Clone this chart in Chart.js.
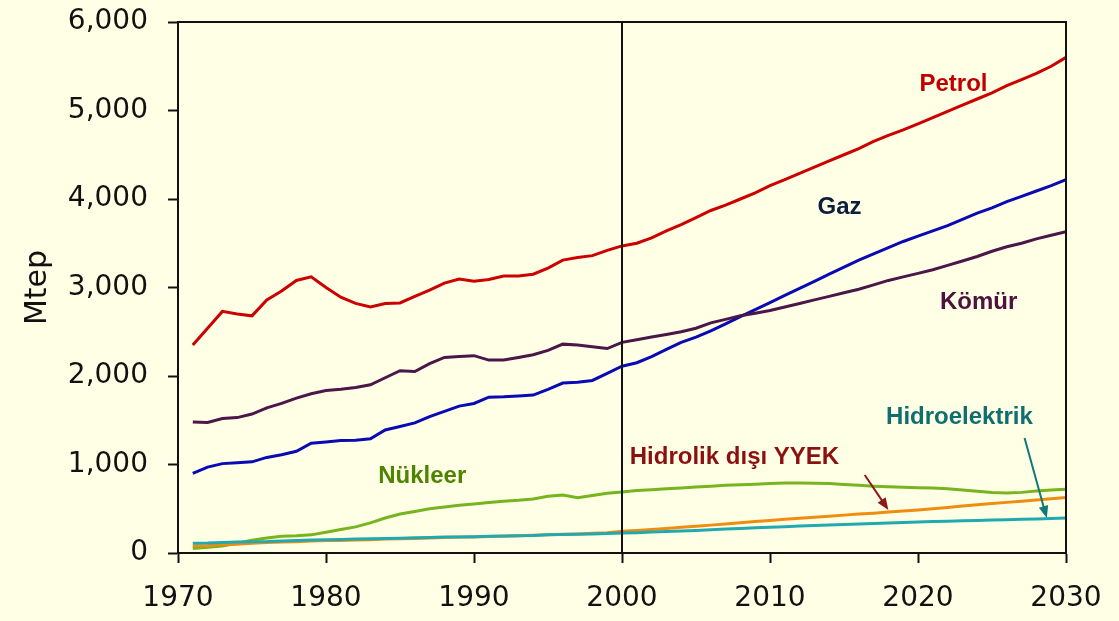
<!DOCTYPE html>
<html>
<head>
<meta charset="utf-8">
<script src="https://cdn.jsdelivr.net/npm/chart.js@4.4.1/dist/chart.umd.min.js"></script>
<style>
  html, body { margin: 0; padding: 0; background: #FFFFE6; }
  #chart { display: block; }
</style>
</head>
<body>
<canvas id="chart" width="1119" height="621"></canvas>
<script>
const years = [];
for (let y = 1971; y <= 2030; y++) years.push(y);

const petrol = [
  2350, 2540, 2730, 2700, 2680, 2860, 2960, 3080, 3120, 3000,
  2890, 2820, 2780, 2820, 2825, 2900, 2970, 3050, 3095, 3070,
  3090, 3130, 3130, 3150, 3220, 3310, 3340, 3360, 3420, 3470,
  3500, 3560, 3640, 3710, 3790, 3870, 3930, 4000, 4070, 4150,
  4220, 4290, 4360, 4430, 4500, 4570, 4650, 4720, 4780, 4850,
  4920, 4990, 5060, 5130, 5200, 5280, 5350, 5420, 5500, 5600
];
const gaz = [
  900, 970, 1010, 1020, 1030, 1080, 1110, 1150, 1240, 1255,
  1270, 1275, 1290, 1390, 1430, 1470, 1540, 1600, 1660, 1690,
  1760, 1765, 1775, 1785, 1850, 1920, 1930, 1950, 2030, 2110,
  2150, 2220, 2300, 2380, 2440, 2510, 2590, 2670, 2750, 2830,
  2910, 2990, 3070, 3150, 3230, 3310, 3380, 3450, 3520, 3580,
  3640, 3700, 3770, 3840, 3900, 3970, 4030, 4090, 4150, 4220
];
const komur = [
  1480, 1475, 1520, 1530, 1570, 1640, 1690, 1750, 1800, 1835,
  1850, 1870, 1900, 1980, 2060, 2050, 2140, 2210, 2220, 2230,
  2180, 2180, 2210, 2240, 2290, 2360, 2350, 2330, 2310, 2380,
  2410, 2440, 2470, 2500, 2540, 2600, 2640, 2680, 2710, 2740,
  2780, 2820, 2860, 2900, 2940, 2980, 3030, 3080, 3120, 3160,
  3200, 3250, 3300, 3350, 3410, 3460, 3500, 3550, 3590, 3630
];
const nukleer = [
  50, 65, 80, 110, 145, 170, 190, 195, 205, 235,
  265, 295, 340, 395, 440, 470, 500, 520, 540, 555,
  570, 585, 595, 610, 640, 655, 625, 650, 675, 690,
  705, 715, 725, 735, 745, 755, 765, 770, 778, 785,
  790, 790, 788, 785, 775, 765, 755, 748, 742, 738,
  734, 725, 712, 698, 685, 678, 685, 700, 712, 720
];
const yyek = [
  80, 85, 95, 100, 110, 118, 125, 128, 135, 140,
  142, 148, 150, 158, 162, 165, 170, 176, 180, 182,
  186, 190, 196, 200, 206, 212, 216, 222, 230, 245,
  255, 265, 278, 290, 302, 315, 328, 342, 355, 368,
  380, 392, 404, 416, 428, 440, 450, 462, 474, 486,
  500, 515, 530, 545, 560, 572, 585, 598, 612, 628
];
const hidro = [
  110, 112, 118, 125, 128, 130, 136, 142, 148, 150,
  153, 158, 160, 165, 168, 172, 175, 180, 182, 185,
  190, 193, 196, 198, 205, 208, 212, 215, 220, 225,
  230, 236, 242, 248, 255, 262, 270, 278, 285, 292,
  298, 304, 310, 316, 322, 328, 334, 340, 346, 350,
  355, 360, 364, 368, 372, 376, 380, 385, 390, 395
];

const seriesNames = ['Petrol', 'Gaz', 'Kömür', 'Nükleer', 'Hidrolik dışı YYEK', 'Hidroelektrik'];
const seriesColors = ['#CC0000', '#0A0AB4', '#4B1648', '#78B41E', '#F08C10', '#20AAB0'];
const seriesValues = [petrol, gaz, komur, nukleer, yyek, hidro];

const yTicks = [0, 1000, 2000, 3000, 4000, 5000, 6000];
const xTicks = [1970, 1980, 1990, 2000, 2010, 2020, 2030];
const splitYear = 2000;

// text labels placed in data units: [text, year, value, colour]
const labels = [
  ['Petrol', 2022.4, 5300, '#C00000'],
  ['Gaz', 2014.7, 3910, '#0B1E3C'],
  ['Kömür', 2024.1, 2836, '#4D1240'],
  ['Nükleer', 1986.5, 870, '#4F8400'],
  ['Hidrolik dışı YYEK', 2007.6, 1085, '#8C1010'],
  ['Hidroelektrik', 2022.8, 1537, '#0F6E70']
];
// arrows: [fromYear, fromValue, toYear, toValue, colour]
const arrows = [
  [2016.4, 881, 2018.0, 486, '#8B1A1A'],
  [2027.2, 1299, 2028.7, 395, '#107878']
];

const datasets = seriesNames.map((name, i) => ({
  label: name,
  data: years.map((yr, j) => ({ x: yr, y: seriesValues[i][j] })),
  borderColor: seriesColors[i],
  backgroundColor: seriesColors[i],
  borderWidth: 3,
  pointRadius: 0,
  tension: 0,
  fill: false
})).reverse();

const decorPlugin = {
  id: 'decor',
  beforeDraw(chart) {
    const ctx = chart.ctx;
    ctx.save();
    ctx.fillStyle = '#FFFFE6';
    ctx.fillRect(0, 0, chart.width, chart.height);
    ctx.restore();
  },
  afterDatasetsDraw(chart) {
    const { ctx, chartArea: a, scales } = chart;
    ctx.save();
    ctx.strokeStyle = '#111';
    ctx.lineWidth = 2;
    ctx.strokeRect(a.left, a.top, a.right - a.left, a.bottom - a.top);
    const sx = Math.round(scales.x.getPixelForValue(splitYear));
    ctx.beginPath();
    ctx.moveTo(sx, a.top);
    ctx.lineTo(sx, a.bottom);
    ctx.stroke();

    ctx.font = 'bold 24px "Liberation Sans", Arial, sans-serif';
    ctx.textAlign = 'center';
    ctx.textBaseline = 'middle';
    labels.forEach(([t, xv, yv, c]) => {
      ctx.fillStyle = c;
      ctx.fillText(t, scales.x.getPixelForValue(xv), scales.y.getPixelForValue(yv));
    });

    arrows.forEach(([x1, y1, x2, y2, c]) => {
      const px1 = scales.x.getPixelForValue(x1), py1 = scales.y.getPixelForValue(y1);
      const px2 = scales.x.getPixelForValue(x2), py2 = scales.y.getPixelForValue(y2);
      const ang = Math.atan2(py2 - py1, px2 - px1);
      const head = 13;
      ctx.strokeStyle = c;
      ctx.fillStyle = c;
      ctx.lineWidth = 2;
      ctx.beginPath();
      ctx.moveTo(px1, py1);
      ctx.lineTo(px2 - Math.cos(ang) * head * 0.8, py2 - Math.sin(ang) * head * 0.8);
      ctx.stroke();
      ctx.beginPath();
      ctx.moveTo(px2, py2);
      ctx.lineTo(px2 - head * Math.cos(ang - 0.38), py2 - head * Math.sin(ang - 0.38));
      ctx.lineTo(px2 - head * Math.cos(ang + 0.38), py2 - head * Math.sin(ang + 0.38));
      ctx.closePath();
      ctx.fill();
    });
    ctx.restore();
  }
};

new Chart(document.getElementById('chart'), {
  type: 'line',
  data: { datasets },
  plugins: [decorPlugin],
  options: {
    responsive: false,
    animation: false,
    devicePixelRatio: 1,
    layout: { padding: { left: 0, top: 22, right: 53, bottom: 0 } },
    plugins: { legend: { display: false }, tooltip: { enabled: false } },
    scales: {
      x: {
        type: 'linear',
        min: 1970,
        max: 2030,
        afterBuildTicks: (s) => { s.ticks = xTicks.map(v => ({ value: v })); },
        afterFit: (s) => { s.height = 68; s.paddingLeft = 0; s.paddingRight = 0; },
        ticks: {
          callback: (v) => String(v),
          font: { family: '"DejaVu Sans", sans-serif', size: 28 },
          color: '#111',
          padding: 19,
          maxRotation: 0
        },
        grid: { drawOnChartArea: false, drawTicks: true, tickLength: 10, tickWidth: 2, tickColor: '#111' },
        border: { display: true, color: '#111', width: 2 }
      },
      y: {
        min: 0,
        max: 6000,
        afterBuildTicks: (s) => { s.ticks = yTicks.map(v => ({ value: v })); },
        afterFit: (s) => { s.width = 178; s.paddingTop = 0; s.paddingBottom = 0; },
        ticks: {
          callback: (v) => v.toLocaleString('en-US'),
          font: { family: '"DejaVu Sans", sans-serif', size: 28 },
          color: '#111',
          padding: 20
        },
        title: {
          display: true,
          text: 'Mtep',
          font: { family: '"DejaVu Sans", sans-serif', size: 30 },
          color: '#111',
          padding: { top: 20, bottom: 0 }
        },
        grid: { drawOnChartArea: false, drawTicks: true, tickLength: 10, tickWidth: 2, tickColor: '#111' },
        border: { display: true, color: '#111', width: 2 }
      }
    }
  }
});
</script>
</body>
</html>
